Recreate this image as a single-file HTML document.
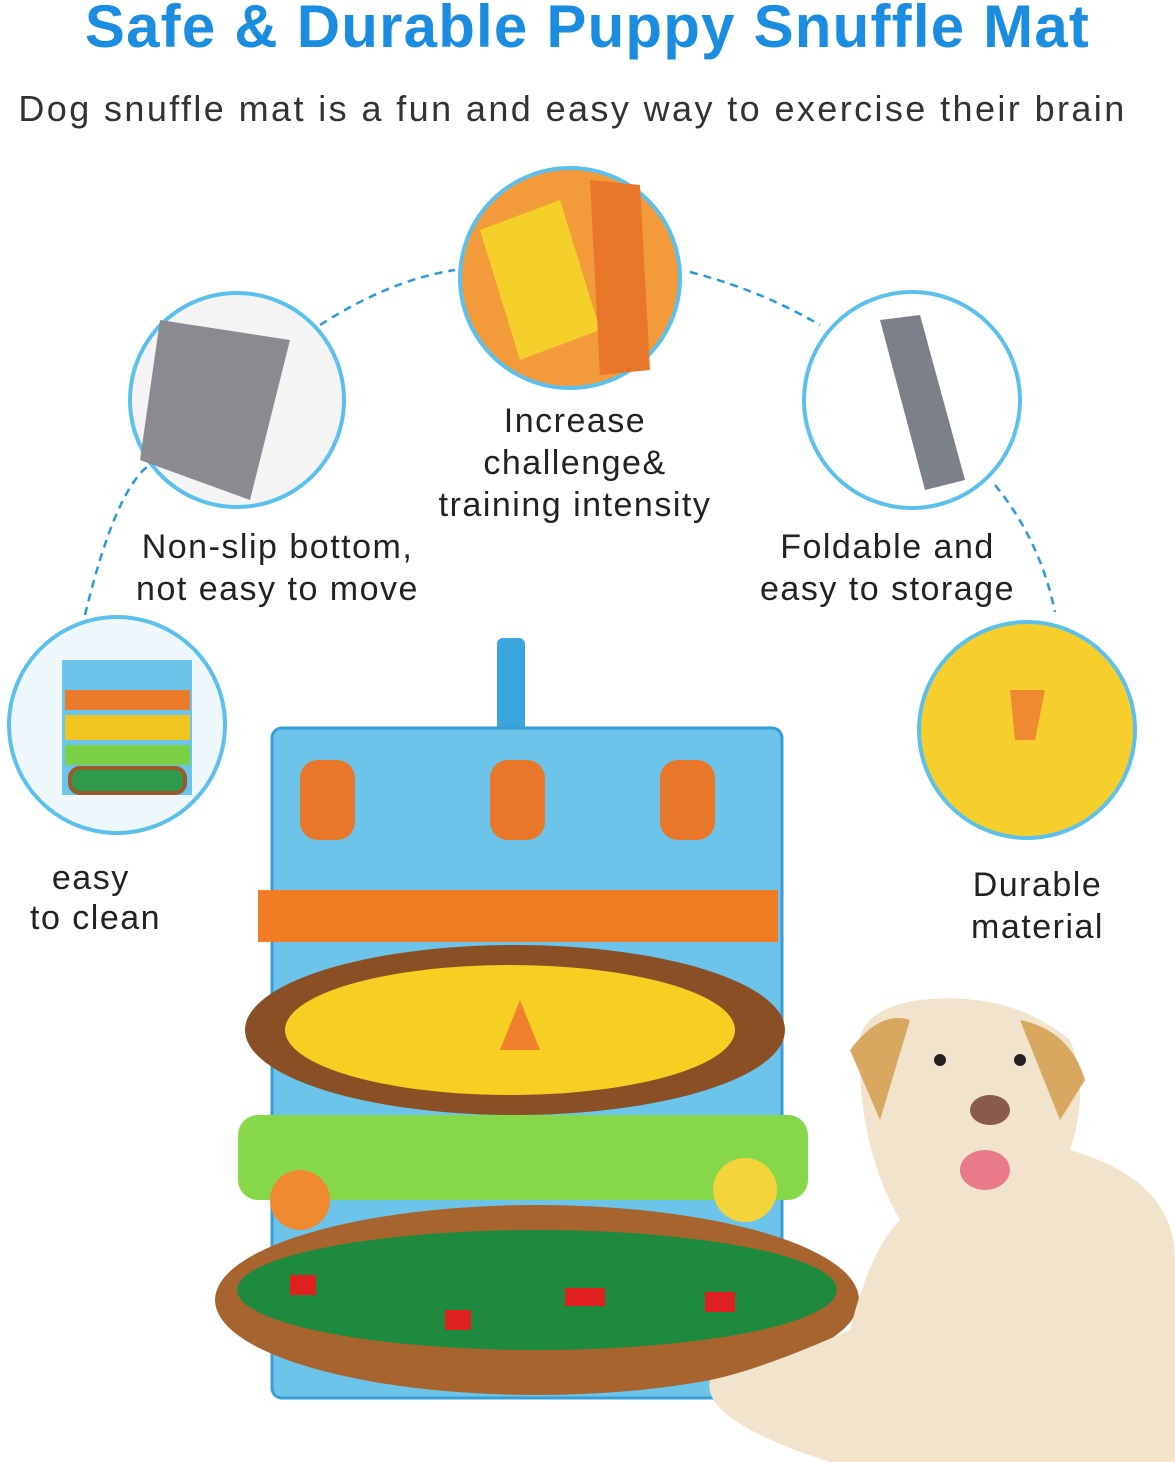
<!DOCTYPE html>
<html><head><meta charset="utf-8"><style>
html,body{margin:0;padding:0;background:#fff;}
body{width:1175px;height:1462px;position:relative;overflow:hidden;font-family:"Liberation Sans",sans-serif;}
.t{position:absolute;white-space:nowrap;color:#222;letter-spacing:1.5px;}
</style></head><body>
<svg width="1175" height="1462" style="position:absolute;left:0;top:0">
<path d="M85,615 Q120,470 160,460 M320,325 Q390,280 455,270 M690,272 Q760,290 820,325 M995,485 Q1040,540 1055,612" fill="none" stroke="#2a9ad8" stroke-width="2.5" stroke-dasharray="8,6"/>
<g stroke="#5bc0ec" stroke-width="4">
<circle cx="570" cy="278" r="110" fill="#f39a3a"/>
<circle cx="237" cy="400" r="107" fill="#f4f4f4"/>
<circle cx="912" cy="400" r="108" fill="#fff"/>
<circle cx="117" cy="725" r="108" fill="#eef7fc"/>
<circle cx="1027" cy="730" r="108" fill="#f6cf2c"/>
</g>
<path d="M480,230 L560,200 L600,330 L520,360Z" fill="#f5d02a"/>
<path d="M590,180 L640,185 L650,370 L600,375Z" fill="#e8772a"/>
<path d="M160,320 L290,340 L250,500 L140,460Z" fill="#8a8a90"/>
<path d="M880,320 L920,315 L965,480 L925,490Z" fill="#7c8088"/>
<rect x="62" y="660" width="130" height="135" fill="#6cc4ea"/>
<rect x="65" y="690" width="125" height="20" fill="#e97b2a"/>
<rect x="65" y="715" width="125" height="25" fill="#f0c520"/>
<rect x="65" y="745" width="125" height="20" fill="#7bd045"/>
<rect x="70" y="768" width="115" height="25" rx="10" fill="#2e9a4a" stroke="#9a5a2a" stroke-width="4"/>
<path d="M1010,690 L1045,690 L1035,740 L1015,740Z" fill="#f08a30"/>
<rect x="497" y="638" width="28" height="110" rx="6" fill="#3aa4dc"/>
<rect x="272" y="728" width="510" height="670" rx="10" fill="#6cc4ea" stroke="#3a9ed6" stroke-width="3"/>
<g fill="#e8772a">
<rect x="300" y="760" width="55" height="80" rx="18"/><rect x="490" y="760" width="55" height="80" rx="18"/><rect x="660" y="760" width="55" height="80" rx="18"/>
</g>
<rect x="258" y="890" width="520" height="52" fill="#f07c24"/>
<ellipse cx="515" cy="1030" rx="270" ry="85" fill="#8a4f24"/>
<ellipse cx="510" cy="1030" rx="225" ry="65" fill="#f7cf22"/>
<path d="M500,1050 L520,1000 L540,1050Z" fill="#f08030"/>
<rect x="238" y="1115" width="570" height="85" rx="20" fill="#86d84a"/>
<circle cx="300" cy="1200" r="30" fill="#f08a30"/><circle cx="745" cy="1190" r="32" fill="#f3d43a"/>
<ellipse cx="537" cy="1300" rx="322" ry="95" fill="#a8642e"/>
<ellipse cx="537" cy="1290" rx="300" ry="60" fill="#1e8a3e"/>
<rect x="290" y="1275" width="26" height="20" fill="#e02020"/><rect x="445" y="1310" width="26" height="20" fill="#e02020"/><rect x="565" y="1288" width="40" height="18" fill="#e02020"/><rect x="705" y="1292" width="30" height="20" fill="#e02020"/>
<path d="M860,1060 Q850,1010 920,1000 Q1010,990 1070,1040 Q1090,1090 1070,1150 Q1175,1180 1175,1260 L1175,1462 L830,1462 Q700,1420 710,1380 Q760,1370 850,1330 Q870,1250 900,1220 Q860,1150 860,1060Z" fill="#f1e3cc"/>
<path d="M850,1050 Q880,1010 910,1020 L880,1120Z M1020,1020 Q1070,1030 1085,1080 L1060,1120Z" fill="#d8a860"/>
<circle cx="940" cy="1060" r="6" fill="#222"/><circle cx="1020" cy="1060" r="6" fill="#222"/>
<ellipse cx="990" cy="1110" rx="20" ry="15" fill="#8a5a4a"/>
<ellipse cx="985" cy="1170" rx="25" ry="20" fill="#e87a8a"/>
</svg>
<div class="t" style="left:0;width:1175px;text-align:center;top:-8px;font-size:60px;font-weight:bold;color:#1a8de0;letter-spacing:1.2px;">Safe &amp; Durable Puppy Snuffle Mat</div>
<div class="t" style="left:0;width:1145px;text-align:center;top:88px;font-size:36px;color:#333;letter-spacing:2.4px;">Dog snuffle mat is a fun and easy way to exercise their brain</div>
<div class="t" style="left:400px;width:350px;text-align:center;top:400px;font-size:34px;line-height:42px;">Increase<br>challenge&amp;<br>training intensity</div>
<div class="t" style="left:80px;width:395px;text-align:center;top:526px;font-size:34px;line-height:42px;">Non-slip bottom,<br>not easy to move</div>
<div class="t" style="left:720px;width:335px;text-align:center;top:526px;font-size:34px;line-height:42px;">Foldable and<br>easy to storage</div>
<div class="t" style="left:30px;top:858px;font-size:34px;line-height:40px;">&nbsp;&nbsp;easy<br>to clean</div>
<div class="t" style="left:950px;width:175px;text-align:center;top:864px;font-size:34px;line-height:42px;">Durable<br>material</div>
</body></html>
